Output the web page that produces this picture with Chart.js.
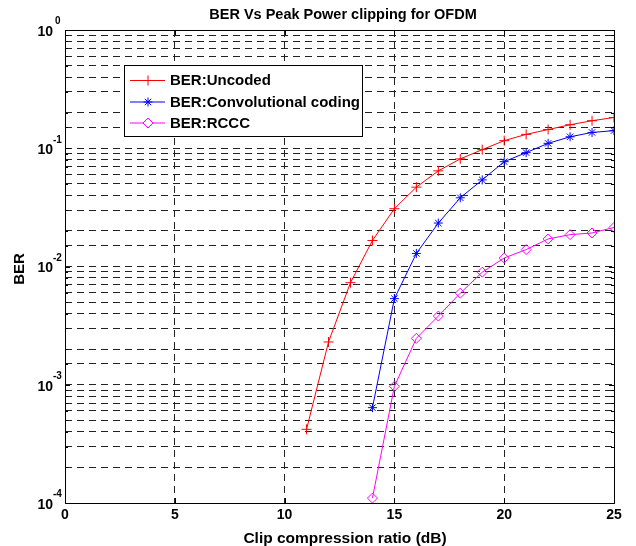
<!DOCTYPE html>
<html>
<head>
<meta charset="utf-8">
<script src="https://cdn.jsdelivr.net/npm/chart.js@4.4.0/dist/chart.umd.min.js"></script>
<style>
  html, body { margin: 0; padding: 0; background: #fff; }
  canvas { display: block; }
</style>
</head>
<body>
<canvas id="ber" width="636" height="546"></canvas>
<script>
// clip ratio (dB) and BER
const uncodedX = [11, 12, 13, 14, 15, 16, 17, 18, 19, 20, 21, 22, 23, 24, 25];
const uncodedBer = [4.2e-4, 2.3e-3, 7.3e-3, 0.0166, 0.0308, 0.0469, 0.0644, 0.0813, 0.0973, 0.116, 0.131, 0.144, 0.158, 0.171, 0.182];
const codedX = [14, 15, 16, 17, 18, 19, 20, 21, 22, 23, 24, 25];
const convBer = [6.4e-4, 5.35e-3, 0.0129, 0.0233, 0.0381, 0.054, 0.077, 0.0918, 0.110, 0.125, 0.136, 0.141];
const rcccBer = [1.1e-4, 9.7e-4, 2.47e-3, 3.81e-3, 5.95e-3, 8.95e-3, 0.0118, 0.0139, 0.0171, 0.0186, 0.0192, 0.0214];

const xTicks = [0, 5, 10, 15, 20, 25];
const yExponents = [0, -1, -2, -3, -4];

const FONT = '"Liberation Sans", Arial, Helvetica, sans-serif';

function pts(xs, ys) {
  return xs.map((x, i) => ({ x, y: ys[i] }));
}

const series = [
  { label: 'BER:Uncoded', data: pts(uncodedX, uncodedBer), color: '#ff0000', style: 'cross', r: 5 },
  { label: 'BER:Convolutional coding', data: pts(codedX, convBer), color: '#0000ff', style: 'star', r: 4.5 },
  { label: 'BER:RCCC', data: pts(codedX, rcccBer), color: '#ff00ff', style: 'rectRot', r: 5 }
];

const legendBox = {
  id: 'legendBox',
  afterDatasetsDraw(chart) {
    const ctx = chart.ctx;
    ctx.save();
    ctx.fillStyle = '#fff';
    ctx.fillRect(124.5, 65.5, 238, 71);
    ctx.strokeStyle = '#000';
    ctx.lineWidth = 1;
    ctx.strokeRect(124.5, 65.5, 238, 71);
    const rows = [80, 101.5, 122.5];
    ctx.font = 'bold 15px ' + FONT;
    ctx.textBaseline = 'middle';
    ctx.textAlign = 'left';
    series.forEach((s, i) => {
      const y = rows[i];
      ctx.strokeStyle = s.color;
      ctx.beginPath();
      ctx.moveTo(130, y + 0.5);
      ctx.lineTo(165, y + 0.5);
      ctx.stroke();
      ctx.fillStyle = '#fff';
      Chart.helpers.drawPoint(ctx, {
        pointStyle: s.style, radius: s.r, rotation: 0, borderWidth: 1
      }, 148, y + 0.5);
      ctx.fillStyle = '#000';
      ctx.fillText(s.label, 170, y + 1);
    });
    ctx.restore();
  }
};

const frame = {
  id: 'frame',
  afterDraw(chart) {
    const { ctx, chartArea: a, scales: { x, y } } = chart;
    ctx.save();
    ctx.strokeStyle = '#000';
    ctx.lineWidth = 1;
    ctx.strokeRect(a.left + 0.5, a.top + 0.5, a.right - a.left, a.bottom - a.top);

    // inward ticks like matlab
    ctx.beginPath();
    xTicks.forEach(v => {
      const px = Math.round(x.getPixelForValue(v)) + 0.5;
      ctx.moveTo(px, a.bottom); ctx.lineTo(px, a.bottom - 5);
      ctx.moveTo(px, a.top); ctx.lineTo(px, a.top + 5);
    });
    y.ticks.forEach(t => {
      const py = Math.round(y.getPixelForValue(t.value)) + 0.5;
      const len = t.major ? 5 : 3;
      ctx.moveTo(a.left, py); ctx.lineTo(a.left + len, py);
      ctx.moveTo(a.right, py); ctx.lineTo(a.right - len, py);
    });
    ctx.stroke();

    ctx.fillStyle = '#000';
    ctx.font = 'bold 14px ' + FONT;
    ctx.textAlign = 'center';
    ctx.textBaseline = 'middle';
    xTicks.forEach(v => {
      ctx.fillText(String(v), x.getPixelForValue(v), 515.5);
    });

    yExponents.forEach(e => {
      const py = y.getPixelForValue(Math.pow(10, e)) + 2;
      ctx.font = 'bold 14px ' + FONT;
      ctx.textAlign = 'right';
      ctx.fillText('10', 53, py);
      ctx.font = 'bold 10px ' + FONT;
      ctx.textAlign = 'left';
      ctx.fillText(String(e), e < 0 ? 53 : 55, py - 10.5);
    });

    ctx.textAlign = 'center';
    ctx.textBaseline = 'alphabetic';
    ctx.font = 'bold 14.5px ' + FONT;
    ctx.fillText('BER Vs Peak Power clipping for OFDM', 343, 19);
    ctx.font = 'bold 15.5px ' + FONT;
    ctx.fillText('Clip compression ratio (dB)', 345, 543);

    ctx.translate(20, 269);
    ctx.rotate(-Math.PI / 2);
    ctx.font = 'bold 15px ' + FONT;
    ctx.textBaseline = 'middle';
    ctx.fillText('BER', 0, 0);
    ctx.restore();
  }
};

const gridOpts = { color: '#222', lineWidth: 1, drawTicks: false };
const borderOpts = { display: false, dash: [7, 5] };

new Chart(document.getElementById('ber'), {
  type: 'line',
  data: {
    datasets: series.map(s => ({
      label: s.label,
      data: s.data,
      borderColor: s.color,
      backgroundColor: 'rgba(0,0,0,0)',
      borderWidth: 1,
      tension: 0,
      pointStyle: s.style,
      pointRadius: s.r,
      pointHoverRadius: s.r,
      pointBorderColor: s.color,
      pointBackgroundColor: 'rgba(0,0,0,0)',
      pointBorderWidth: 1
    }))
  },
  options: {
    responsive: false,
    animation: false,
    devicePixelRatio: 1,
    layout: { padding: { left: 65, right: 22, top: 30, bottom: 43 } },
    plugins: {
      legend: { display: false },
      title: { display: false },
      tooltip: { enabled: false }
    },
    scales: {
      x: {
        type: 'linear',
        min: 0,
        max: 25,
        ticks: { display: false, stepSize: 5 },
        grid: gridOpts,
        border: borderOpts
      },
      y: {
        type: 'logarithmic',
        min: 1e-4,
        max: 1,
        ticks: { display: false },
        grid: gridOpts,
        border: borderOpts
      }
    }
  },
  plugins: [legendBox, frame]
});
</script>
</body>
</html>
